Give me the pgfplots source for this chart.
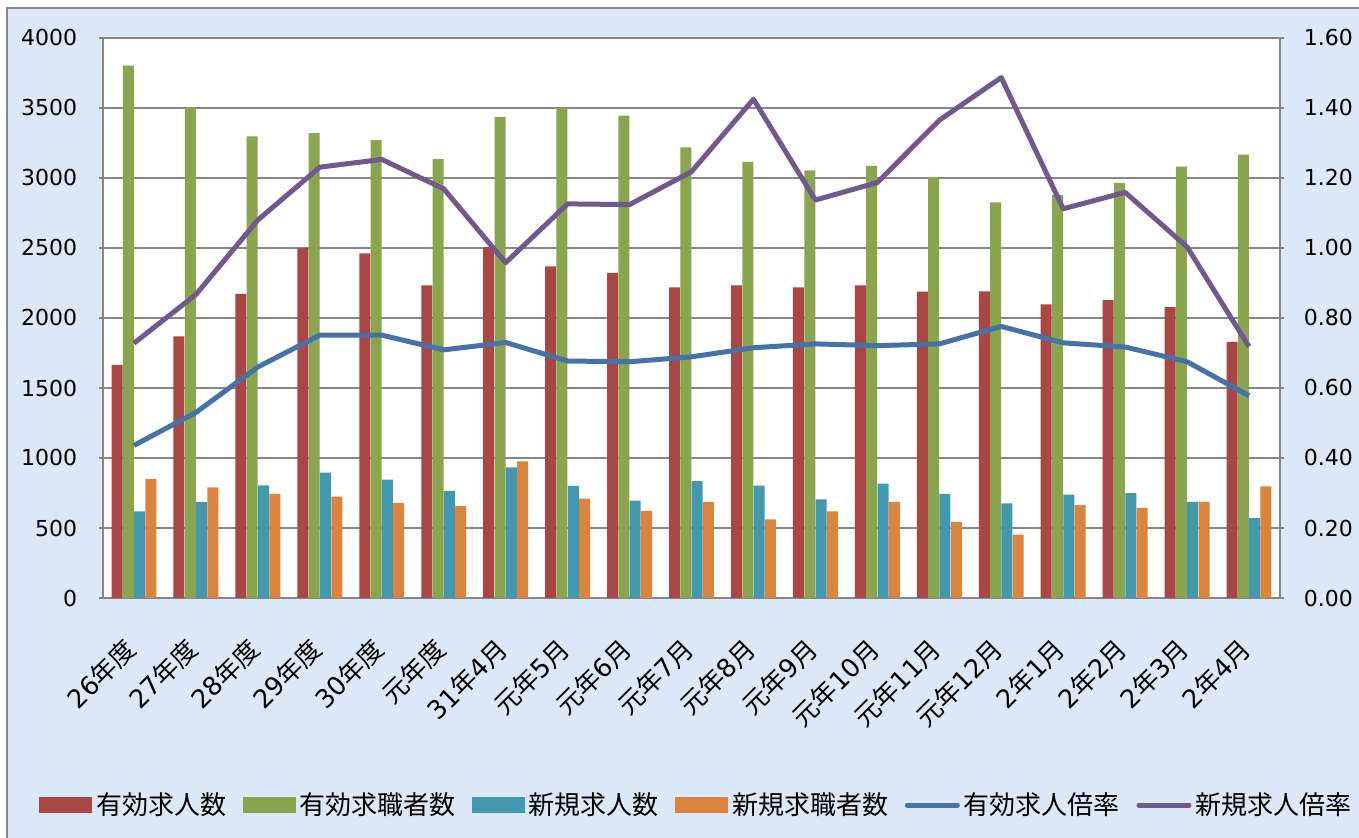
\documentclass[border=0pt]{standalone}
\usepackage{fontspec}
\setmainfont{DejaVu Sans}
\newfontfamily\jpfont{Noto Sans CJK JP}
\usepackage{pgfplots}
\usepackage{pgfplotstable}
\pgfplotsset{compat=1.18}
\newcommand\J[1]{{\jpfont #1}}
\definecolor{bgblue}{RGB}{218,232,247}
\definecolor{cred}{HTML}{AA4643}
\definecolor{cgreen}{HTML}{89A54E}
\definecolor{cteal}{HTML}{4198AF}
\definecolor{corange}{HTML}{DB843D}
\definecolor{cblue}{HTML}{4572A7}
\definecolor{cpurple}{HTML}{71588F}
\definecolor{gridgray}{HTML}{868686}
\pgfplotstableread{
x red green teal orange blue purple
0 1665 3802 619 851 0.436 0.728
1 1868 3505 684 791 0.530 0.867
2 2173 3298 805 743 0.660 1.080
3 2501 3321 896 724 0.751 1.231
4 2462 3270 845 678 0.751 1.253
5 2233 3134 766 656 0.709 1.169
6 2507 3437 933 975 0.730 0.958
7 2369 3502 800 709 0.677 1.126
8 2323 3445 695 622 0.675 1.124
9 2219 3219 834 684 0.689 1.218
10 2233 3115 803 562 0.715 1.425
11 2219 3055 704 619 0.726 1.137
12 2233 3086 817 687 0.721 1.187
13 2188 3007 743 543 0.726 1.365
14 2191 2826 676 452 0.776 1.487
15 2097 2880 738 664 0.729 1.112
16 2128 2965 749 644 0.717 1.159
17 2077 3081 687 687 0.675 1.003
18 1829 3166 571 797 0.578 0.718
}\datatable
\begin{document}
\begin{tikzpicture}
\fill[white] (-51.5pt,-120pt) rectangle (628pt,299pt);
\fill[bgblue] (-48pt,-120pt) rectangle (628pt,295pt);
\draw[gridgray,line width=0.8pt] (-48pt,-120pt) -- (-48pt,295pt) -- (628pt,295pt);
\pgfplotsset{
  common/.style={
    scale only axis, width=588.5pt, height=280pt,
    xmin=-0.5, xmax=18.5,
    tick align=outside,
    major tick length=3.8pt,
    minor tick length=3.8pt,
    every tick/.style={gridgray, line width=0.7pt},
    axis line style={gridgray, line width=0.7pt},
    /pgf/number format/assume math mode=true,
    tick label style={font=\fontsize{11pt}{13pt}\selectfont, black},
  }
}
\begin{axis}[common,
  axis background/.style={fill=white},
  axis x line=bottom, axis y line=left,
  axis line style={-},
  ymin=0, ymax=4000, ytick distance=500,
  /pgf/number format/1000 sep={},
  yticklabel style={xshift=-7.5pt},
  ymajorgrids, grid style={gridgray, line width=0.7pt},
  xtick={0,...,18},
  xtick style={draw=none},
  minor xtick={-0.5,0.5,1.5,2.5,3.5,4.5,5.5,6.5,7.5,8.5,9.5,10.5,11.5,12.5,13.5,14.5,15.5,16.5,17.5,18.5},
  xticklabels={{26\J{年度}},{27\J{年度}},{28\J{年度}},{29\J{年度}},{30\J{年度}},{\J{元年度}},{31\J{年}4\J{月}},{\J{元年}5\J{月}},{\J{元年}6\J{月}},{\J{元年}7\J{月}},{\J{元年}8\J{月}},{\J{元年}9\J{月}},{\J{元年}10\J{月}},{\J{元年}11\J{月}},{\J{元年}12\J{月}},{2\J{年}1\J{月}},{2\J{年}2\J{月}},{2\J{年}3\J{月}},{2\J{年}4\J{月}}},
  xticklabel style={rotate=45, anchor=east, inner sep=0pt, yshift=-12.5pt, xshift=-14.5pt, font=\fontsize{12.8pt}{15pt}\selectfont},
  ybar=0.15pt, bar width=5.5pt,
]
\addplot[fill=cred, draw=none] table[x=x,y=red]{\datatable};
\addplot[fill=cgreen, draw=none] table[x=x,y=green]{\datatable};
\addplot[fill=cteal, draw=none] table[x=x,y=teal]{\datatable};
\addplot[fill=corange, draw=none] table[x=x,y=orange]{\datatable};
\end{axis}
\begin{axis}[common,
  axis x line=none, axis y line=right,
  axis line style={-},
  ymin=0, ymax=1.6, ytick={0,0.2,...,1.6},
  yticklabel style={xshift=6.5pt, /pgf/number format/.cd, fixed, fixed zerofill, precision=2},
  legend columns=6,
  legend style={draw=none, fill=none, at={(axis description cs:0.505,-0.37)}, anchor=center,
    font=\jpfont\fontsize{13pt}{15pt}\selectfont,
    /tikz/every even column/.append style={column sep=6.3pt}},
]
\addlegendimage{legend image code/.code={\fill[cred] (0pt,-3.75pt) rectangle (26pt,3.75pt);}}
\addlegendentry{有効求人数}
\addlegendimage{legend image code/.code={\fill[cgreen] (0pt,-3.75pt) rectangle (26pt,3.75pt);}}
\addlegendentry{有効求職者数}
\addlegendimage{legend image code/.code={\fill[cteal] (0pt,-3.75pt) rectangle (26pt,3.75pt);}}
\addlegendentry{新規求人数}
\addlegendimage{legend image code/.code={\fill[corange] (0pt,-3.75pt) rectangle (26pt,3.75pt);}}
\addlegendentry{新規求職者数}
\addplot[cblue, line width=2.5pt, line join=round, mark=none,
  legend image code/.code={\draw[cblue, line width=2.5pt, line cap=round] (1pt,0pt) -- (26pt,0pt);}]
  table[x=x,y=blue]{\datatable};
\addlegendentry{有効求人倍率}
\addplot[cpurple, line width=2.5pt, line join=round, mark=none,
  legend image code/.code={\draw[cpurple, line width=2.5pt, line cap=round] (1pt,0pt) -- (26pt,0pt);}]
  table[x=x,y=purple]{\datatable};
\addlegendentry{新規求人倍率}
\end{axis}
\pgfresetboundingbox
\path (-51.5pt,-120pt) rectangle (628pt,299pt);
\end{tikzpicture}
\end{document}
